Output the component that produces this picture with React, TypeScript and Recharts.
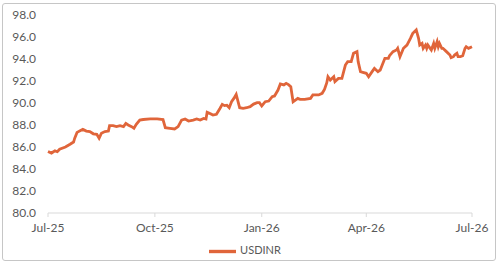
import React from "react";
import { LineChart, Line, XAxis, YAxis, Legend } from "recharts";

const dates: string[] = [
  "2025-07-01","2025-07-04","2025-07-07","2025-07-09","2025-07-11","2025-07-16","2025-07-20","2025-07-23","2025-07-24","2025-07-26",
  "2025-07-29","2025-07-31","2025-08-03","2025-08-06","2025-08-09","2025-08-12","2025-08-14","2025-08-16","2025-08-19","2025-08-22",
  "2025-08-23","2025-08-26","2025-08-29","2025-09-01","2025-09-04","2025-09-06","2025-09-08","2025-09-11","2025-09-13","2025-09-15",
  "2025-09-18","2025-09-21","2025-09-27","2025-10-03","2025-10-08","2025-10-10","2025-10-14","2025-10-18","2025-10-21","2025-10-24",
  "2025-10-27","2025-10-30","2025-11-03","2025-11-06","2025-11-09","2025-11-12","2025-11-14","2025-11-15","2025-11-17","2025-11-20",
  "2025-11-23","2025-11-26","2025-11-28","2025-11-30","2025-12-02","2025-12-04","2025-12-06","2025-12-08","2025-12-10","2025-12-13",
  "2025-12-16","2025-12-19","2025-12-22","2025-12-25","2025-12-28","2025-12-30","2026-01-01","2026-01-04","2026-01-07","2026-01-10",
  "2026-01-12","2026-01-15","2026-01-17","2026-01-20","2026-01-22","2026-01-24","2026-01-26","2026-01-28","2026-01-30","2026-02-01",
  "2026-02-03","2026-02-07","2026-02-12","2026-02-14","2026-02-19","2026-02-22","2026-02-24","2026-02-26","2026-02-27","2026-03-01",
  "2026-03-04","2026-03-05","2026-03-08","2026-03-11","2026-03-14","2026-03-16","2026-03-19","2026-03-21","2026-03-24","2026-03-25",
  "2026-03-27","2026-03-29","2026-04-01","2026-04-03","2026-04-06","2026-04-08","2026-04-11","2026-04-13","2026-04-17","2026-04-20",
  "2026-04-21","2026-04-24","2026-04-27","2026-04-28","2026-04-30","2026-05-03","2026-05-06","2026-05-09","2026-05-11","2026-05-14",
  "2026-05-16","2026-05-17","2026-05-19","2026-05-20","2026-05-22","2026-05-23","2026-05-24","2026-05-26","2026-05-27","2026-05-29",
  "2026-05-30","2026-06-01","2026-06-02","2026-06-03","2026-06-05","2026-06-06","2026-06-09","2026-06-12","2026-06-13","2026-06-15",
  "2026-06-16","2026-06-18","2026-06-19","2026-06-21","2026-06-23","2026-06-25","2026-06-26","2026-06-28","2026-07-01"
];

const usdinr: number[] = [
  85.6, 85.45, 85.65, 85.57, 85.8, 86.0, 86.25, 86.45, 86.8, 87.33,
  87.5, 87.6, 87.45, 87.4, 87.2, 87.15, 86.8, 87.25, 87.4, 87.45,
  87.94, 87.94, 87.85, 87.94, 87.85, 88.15, 88.0, 87.85, 87.7, 88.06,
  88.45, 88.5, 88.55, 88.55, 88.5, 87.75, 87.7, 87.64, 87.85, 88.45,
  88.55, 88.36, 88.45, 88.55, 88.45, 88.6, 88.55, 89.15, 89.06, 88.9,
  88.97, 89.5, 89.88, 89.76, 89.8, 89.57, 90.12, 90.42, 90.79, 89.57,
  89.52, 89.57, 89.67, 89.9, 90.03, 90.03, 89.73, 90.12, 90.18, 90.58,
  90.64, 91.18, 91.73, 91.64, 91.79, 91.67, 91.48, 90.12, 90.27, 90.42,
  90.33, 90.33, 90.42, 90.73, 90.73, 90.88, 91.24, 91.85, 92.39, 92.09,
  92.39, 91.94, 92.24, 92.24, 93.45, 93.76, 93.76, 94.52, 94.67, 93.76,
  92.85, 92.79, 92.7, 92.39, 92.85, 93.15, 92.85, 93.0, 94.06, 94.06,
  94.3, 94.67, 94.82, 94.97, 94.21, 94.97, 95.27, 95.88, 96.33, 96.64,
  95.88, 95.27, 95.42, 94.97, 95.27, 94.97, 95.27, 94.97, 94.82, 95.42,
  94.97, 95.58, 95.12, 95.42, 94.97, 94.97, 94.67, 94.36, 94.12, 94.21,
  94.36, 94.52, 94.21, 94.21, 94.3, 94.97, 95.12, 94.97, 95.12
];

const xTickDates: string[] = ["2025-07-01", "2025-10-01", "2026-01-01", "2026-04-01", "2026-07-01"];
const yTicks: number[] = [80, 82, 84, 86, 88, 90, 92, 94, 96, 98];
const monthNames: string[] = ["Jan","Feb","Mar","Apr","May","Jun","Jul","Aug","Sep","Oct","Nov","Dec"];
const seriesName = "USDINR";

const toTs = (s: string) => Date.parse(s + "T00:00:00Z");
const data = dates.map((d, i) => ({ t: toTs(d), USDINR: usdinr[i] }));
const xTicks = xTickDates.map(toTs);

const fmtDate = (v: number) => {
  const d = new Date(v);
  return monthNames[d.getUTCMonth()] + "-" + String(d.getUTCFullYear()).slice(2);
};

const FONT = "Lato, 'Open Sans', sans-serif";
const TEXT = "#595959";
const LINE = "#E0653A";

export default function App() {
  return (
    <div style={{ position: "absolute", left: 0, top: 0, width: 500, height: 266, background: "#fff", fontFamily: FONT }}>
      <div
        style={{
          position: "absolute",
          left: 2,
          top: 3,
          width: 494,
          height: 258,
          border: "1px solid #c6c6c6",
          borderRadius: 3,
          boxSizing: "border-box",
        }}
      />
      <LineChart width={500} height={266} data={data} margin={{ top: 15, right: 28, left: 0, bottom: 5 }}>
        <XAxis
          dataKey="t"
          type="number"
          scale="time"
          domain={[xTicks[0], xTicks[xTicks.length - 1]]}
          ticks={xTicks}
          tickFormatter={fmtDate}
          height={25}
          tick={{ fill: TEXT, fontSize: 12, fontFamily: FONT }}
          stroke="#d9d9d9"
          tickSize={4}
          tickMargin={6}
          interval={0}
        />
        <YAxis
          type="number"
          domain={[80, 98]}
          ticks={yTicks}
          tickFormatter={(v: number) => v.toFixed(1)}
          width={48}
          axisLine={false}
          tickLine={false}
          tickMargin={6}
          tick={{ fill: TEXT, fontSize: 12, fontFamily: FONT }}
          interval={0}
        />
        <Legend
          verticalAlign="bottom"
          align="center"
          iconType="plainline"
          iconSize={27}
          wrapperStyle={{ height: 23, width: 500, left: 0, fontSize: 11, fontFamily: FONT }}
          formatter={(v: string) => <span style={{ color: TEXT }}>{v}</span>}
        />
        <Line
          type="linear"
          dataKey="USDINR"
          name={seriesName}
          stroke={LINE}
          strokeWidth={2.8}
          dot={false}
          isAnimationActive={false}
        />
      </LineChart>
    </div>
  );
}
